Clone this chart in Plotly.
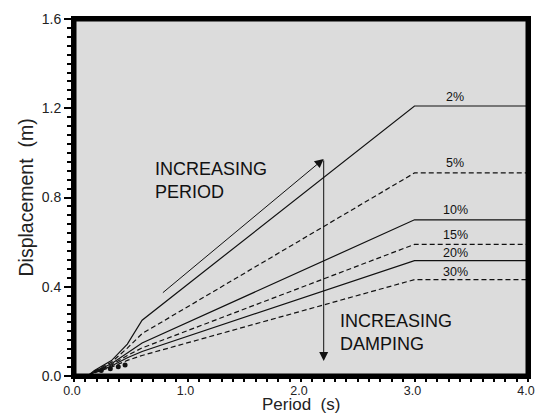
import plotly.graph_objects as go

# Data
periods = [0.12, 0.18, 0.33, 0.47, 0.6, 3.0, 4.0]
damping_labels = ["2%", "5%", "10%", "15%", "20%", "30%"]
disp_2 = [0.0, 0.025, 0.069, 0.143, 0.25, 1.21, 1.21]
disp_5 = [0.0, 0.022, 0.062, 0.125, 0.19, 0.91, 0.91]
disp_10 = [0.0, 0.02, 0.055, 0.105, 0.148, 0.70, 0.70]
disp_15 = [0.0, 0.018, 0.05, 0.092, 0.126, 0.59, 0.59]
disp_20 = [0.0, 0.016, 0.045, 0.082, 0.11, 0.517, 0.517]
disp_30 = [0.0, 0.014, 0.04, 0.07, 0.092, 0.432, 0.432]
series = [disp_2, disp_5, disp_10, disp_15, disp_20, disp_30]
dashes = ["solid", "5px,3px", "solid", "5px,3px", "solid", "5px,3px"]
dot_x = [0.24, 0.32, 0.39, 0.45]
dot_y = [0.025, 0.033, 0.041, 0.049]
label_x = [3.36] * 6
label_y = [1.251, 0.955, 0.744, 0.632, 0.552, 0.466]
x_ticks = [0.0, 1.0, 2.0, 3.0, 4.0]
x_tick_text = ["0.0", "1.0", "2.0", "3.0", "4.0"]
y_ticks = [0.0, 0.4, 0.8, 1.2, 1.6]
y_tick_text = ["0.0", "0.4", "0.8", "1.2", "1.6"]

fig = go.Figure()
for vals, dash in zip(series, dashes):
    fig.add_trace(go.Scatter(x=periods, y=vals, mode="lines",
                             line=dict(color="#111", width=1.2, dash=dash),
                             showlegend=False, hoverinfo="skip"))
fig.add_trace(go.Scatter(x=dot_x, y=dot_y, mode="markers",
                         marker=dict(color="#111", size=5),
                         showlegend=False, hoverinfo="skip"))

font = "Liberation Sans, Arial, sans-serif"
ann = []
for lx, ly, t in zip(label_x, label_y, damping_labels):
    ann.append(dict(x=lx, y=ly, xref="x", yref="y", text=t, showarrow=False,
                    font=dict(family=font, size=12.5, color="#111"), xanchor="center"))
ann.append(dict(x=0.70, y=0.877, xref="x", yref="y", text="INCREASING<br>PERIOD",
                showarrow=False, xanchor="left", align="left",
                font=dict(family=font, size=18, color="#111")))
ann.append(dict(x=2.33, y=0.197, xref="x", yref="y", text="INCREASING<br>DAMPING",
                showarrow=False, xanchor="left", align="left",
                font=dict(family=font, size=18, color="#111")))
ann.append(dict(x=2.2, y=0.973, ax=0.77, ay=0.368, xref="x", yref="y",
                axref="x", ayref="y", text="", showarrow=True, arrowhead=2,
                arrowsize=1.8, arrowwidth=1, arrowcolor="#111"))
ann.append(dict(x=2.2, y=0.067, ax=2.2, ay=0.973, xref="x", yref="y",
                axref="x", ayref="y", text="", showarrow=True, arrowhead=2,
                arrowsize=1.8, arrowwidth=1, arrowcolor="#111"))
# axis titles
ann.append(dict(x=0.5, y=0, xref="paper", yref="paper", text="Period  (s)",
                showarrow=False, xanchor="center", yanchor="middle", yshift=-28,
                font=dict(family=font, size=17, color="#222")))
ann.append(dict(x=0, y=0.5, xref="paper", yref="paper", text="Displacement  (m)",
                showarrow=False, xanchor="center", yanchor="middle", xshift=-49,
                textangle=-90, font=dict(family=font, size=19.5, color="#222")))

fig.update_layout(
    width=536, height=414,
    margin=dict(l=74, r=8, t=19, b=38, autoexpand=False),
    paper_bgcolor="white", plot_bgcolor="#dcdcdc",
    annotations=ann,
    font=dict(family=font, color="#222"),
    shapes=[dict(type="rect", xref="paper", yref="paper", x0=0, x1=1, y0=0, y1=1,
                 line=dict(color="black", width=5), layer="above")],
)
fig.update_xaxes(range=[0, 4], tickvals=x_ticks, ticktext=x_tick_text,
                 automargin=False,
                 showgrid=False, zeroline=False,
                 showline=True, linewidth=3, linecolor="black", mirror=True,
                 ticks="outside", ticklen=1, tickwidth=1.5, tickcolor="black",
                 ticklabelshift=-2,
                 minor=dict(dtick=0.1, ticks="outside", ticklen=3, tickcolor="black", showgrid=False),
                 tickfont=dict(size=12.5, color="#222"))
fig.update_yaxes(range=[0, 1.6], tickvals=y_ticks, ticktext=y_tick_text,
                 automargin=False,
                 showgrid=False, zeroline=False,
                 showline=True, linewidth=3, linecolor="black", mirror=True,
                 ticks="outside", ticklen=7, tickwidth=1.5, tickcolor="black",
                 minor=dict(dtick=0.04, ticks="outside", ticklen=4, tickcolor="black", showgrid=False),
                 tickfont=dict(size=14, color="#222"))

fig.write_html("out.html", config={"displayModeBar": False},
               post_script="document.body.style.margin='0';document.body.style.overflow='hidden';")
